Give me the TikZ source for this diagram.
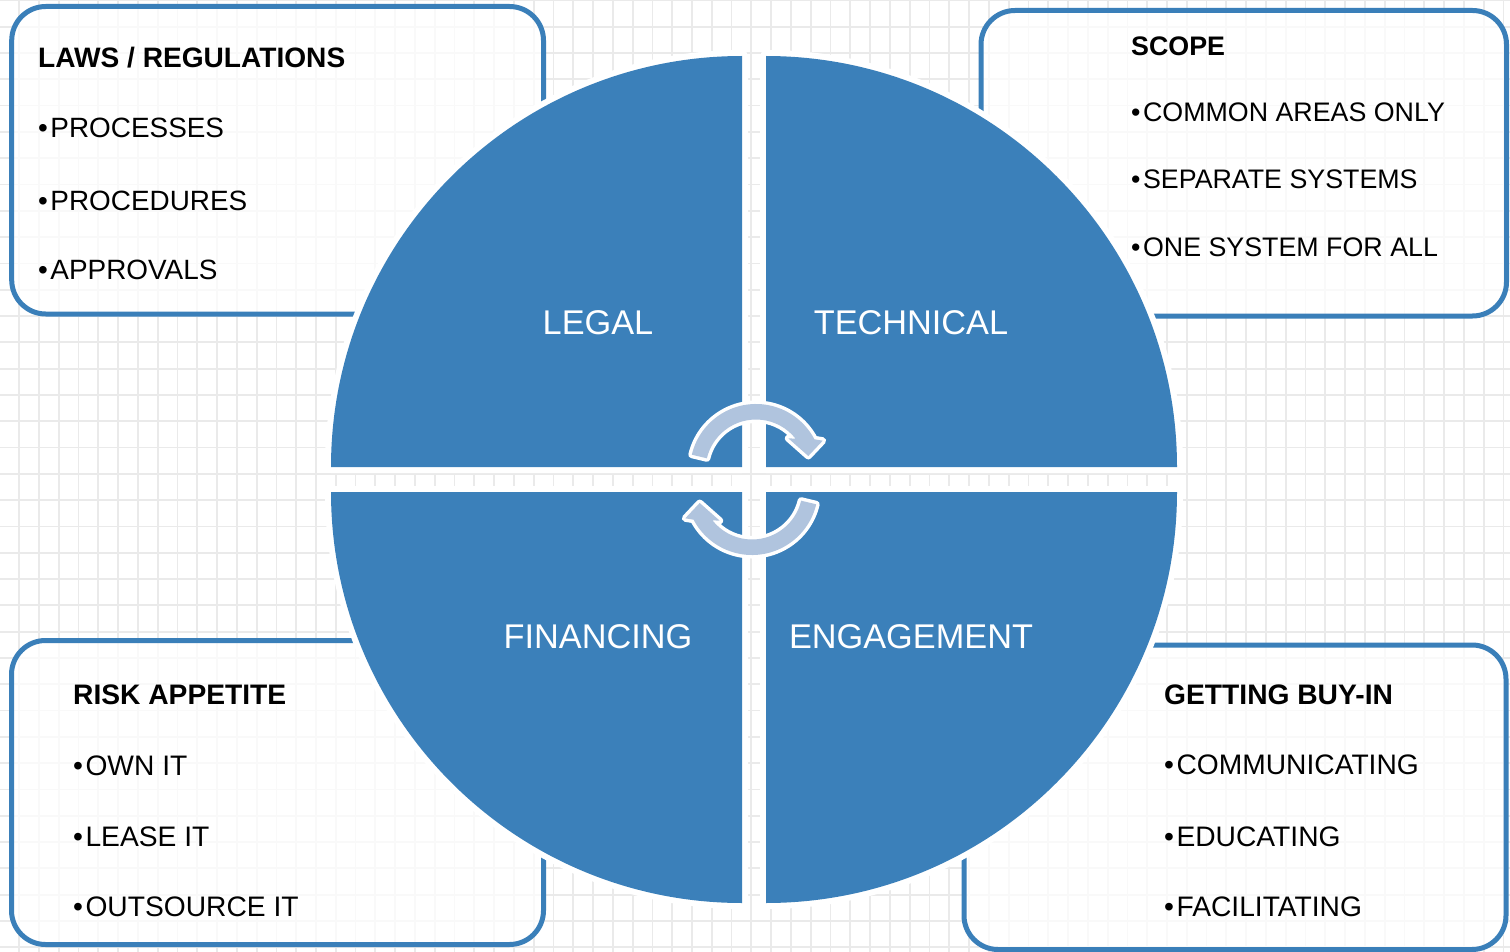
\documentclass[tikz,border=0pt]{standalone}
\usepackage{fontspec}
\setmainfont{Liberation Sans}

\definecolor{quadblue}{RGB}{59,128,186}
\definecolor{frameblue}{RGB}{58,127,185}
\definecolor{cyclefill}{RGB}{176,196,222}
\definecolor{gridgray}{RGB}{234,234,234}

\newcommand{\bul}{•\kern2.5pt}

\begin{document}
\begin{tikzpicture}[x=1pt,y=-1pt,
  gridline/.style={draw=gridgray, line width=1.8pt},
  infobox/.style={draw=frameblue, line width=5pt, fill=white, fill opacity=0.72,
                  rounded corners=34pt, inner sep=0pt},
  quadgap/.style={draw=white, line width=12pt, line join=round},
  quadfill/.style={fill=quadblue},
  cyclearrow/.style={fill=cyclefill,
                     preaction={draw=white, line width=7pt, line join=round}},
  headtext/.style={anchor=base west, inner sep=0pt},
  itemtext/.style={anchor=base west, inner sep=0pt},
  quadlabel/.style={anchor=base, inner sep=0pt, text=white,
                    font=\fontsize{34.3}{40}\selectfont}
]
\useasboundingbox (0,0) rectangle (1510,952);
\fill[white] (0,0) rectangle (1510,952);

% background grid
\foreach \i in {0,...,76}
  \draw[gridline] ({-0.64+19.79*\i},0) -- ++(0,952);
\foreach \j in {0,...,36}
  \draw[gridline] (0,{0.4+26.3*\j}) -- ++(1510,0);

% the four info boxes
\node[infobox, minimum width=531.8pt, minimum height=307.5pt] (lawsbox)  at (277.6,160.25)  {};
\node[infobox, minimum width=525.5pt, minimum height=305.5pt] (scopebox) at (1243.75,163.25) {};
\node[infobox, minimum width=532pt,   minimum height=304pt]   (riskbox)  at (277.5,792.5)   {};
\node[infobox, minimum width=542pt,   minimum height=304.5pt] (buyinbox) at (1235,797.25)   {};

% quadrant discs: white halo first, then the blue fill
\foreach \op in {quadgap,quadfill}{
  \path[\op] (742,467) -- ++(-411,0) arc[start angle=180, end angle=270, radius=411] -- cycle;
  \path[\op] (766,467) -- ++(0,-411) arc[start angle=270, end angle=360, radius=411] -- cycle;
  \path[\op] (742,492) -- ++(0,411)  arc[start angle=90,  end angle=180, radius=411] -- cycle;
  \path[\op] (766,492) -- ++(411,0)  arc[start angle=0,   end angle=90,  radius=411] -- cycle;
}

% circular arrows in the centre
\path[cyclearrow] (691.8,454.7) arc[start angle=193.4, end angle=332.3, radius=66]
  -- (822.7,440.7) -- (808.3,456) -- (788.3,438.3) -- (795.6,438.7)
  arc[start angle=321.7, end angle=193.4, radius=50.5] -- cycle;
\path[cyclearrow, rotate around={180:(754,479.5)}] (691.8,454.7) arc[start angle=193.4, end angle=332.3, radius=66]
  -- (822.7,440.7) -- (808.3,456) -- (788.3,438.3) -- (795.6,438.7)
  arc[start angle=321.7, end angle=193.4, radius=50.5] -- cycle;

% quadrant labels
\node[quadlabel] (legal)      at (598,334)   {LEGAL};
\node[quadlabel] (technical)  at (911,334)   {TECHNICAL};
\node[quadlabel] (financing)  at (598,648.5) {FINANCING};
\node[quadlabel] (engagement) at (911,648.5) {ENGAGEMENT};

% top-left box text
\begin{scope}[every node/.append style={font=\fontsize{27.9}{33}\selectfont}]
\node[headtext, font=\fontsize{28.1}{34}\selectfont] (lawshead) at (38,67.7)  {\bfseries LAWS / REGULATIONS};
\node[itemtext] (laws1)    at (38,137.7) {\bul PROCESSES};
\node[itemtext] (laws2)    at (38,210.7) {\bul PROCEDURES};
\node[itemtext] (laws3)    at (38,279.7) {\bul APPROVALS};
\end{scope}

% top-right box text
\begin{scope}[every node/.append style={font=\fontsize{26.8}{32}\selectfont}]
\node[headtext] (scopehead) at (1131,55.5) {\bfseries SCOPE};
\node[itemtext] (scope1)    at (1131,122)  {\bul COMMON AREAS ONLY};
\node[itemtext] (scope2)    at (1131,189)  {\bul SEPARATE SYSTEMS};
\node[itemtext] (scope3)    at (1131,256)  {\bul ONE SYSTEM FOR ALL};
\end{scope}

% bottom-left box text
\begin{scope}[every node/.append style={font=\fontsize{28.2}{34}\selectfont}]
\node[headtext] (riskhead) at (73,704.3) {\bfseries RISK APPETITE};
\node[itemtext] (risk1)    at (73,775)   {\bul OWN IT};
\node[itemtext] (risk2)    at (73,846)   {\bul LEASE IT};
\node[itemtext] (risk3)    at (73,916)   {\bul OUTSOURCE IT};
\end{scope}

% bottom-right box text
\begin{scope}[every node/.append style={font=\fontsize{28.2}{34}\selectfont}]
\node[headtext] (buyinhead) at (1164,704.3) {\bfseries GETTING BUY-IN};
\node[itemtext] (buyin1)    at (1164,774.3) {\bul COMMUNICATING};
\node[itemtext] (buyin2)    at (1164,846)   {\bul EDUCATING};
\node[itemtext] (buyin3)    at (1164,916)   {\bul FACILITATING};
\end{scope}
\end{tikzpicture}
\end{document}
